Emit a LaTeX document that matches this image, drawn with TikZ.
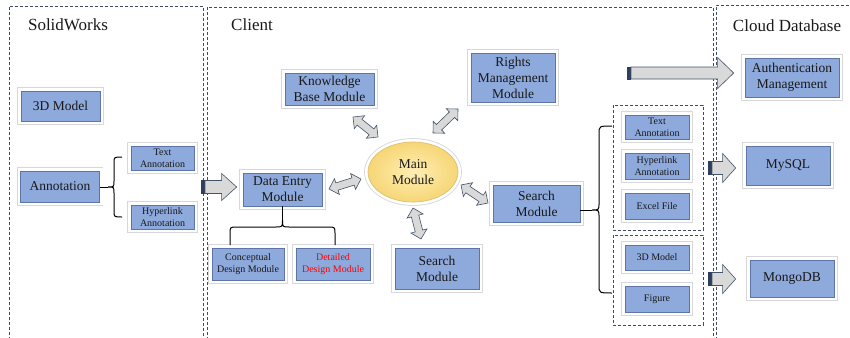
\documentclass[tikz,border=0pt]{standalone}
\usepackage{fontspec}
\setmainfont{Liberation Serif}
\usetikzlibrary{shapes.geometric,shapes.arrows,calc}
\definecolor{boxblue}{RGB}{142,169,219}
\definecolor{boxedge}{RGB}{92,116,166}
\definecolor{shadowgray}{RGB}{214,216,220}
\definecolor{arrfill}{RGB}{217,217,217}
\definecolor{arredge}{RGB}{68,84,106}
\definecolor{stripecol}{RGB}{47,62,92}
\definecolor{framecol}{RGB}{60,75,105}
\definecolor{yelin}{RGB}{255,238,180}
\definecolor{yelout}{RGB}{246,214,118}
\definecolor{yeledge}{RGB}{222,192,110}
\definecolor{txt}{RGB}{25,25,25}
\tikzset{
  glow/.style={preaction={draw=shadowgray, line width=7.8pt}, preaction={draw=white, line width=6pt}},
  box/.style={rectangle, glow, fill=boxblue, draw=boxedge, line width=0.7pt, inner sep=1pt, align=center, text=txt},
  bigbox/.style={box, font=\fontsize{13.5}{16}\selectfont},
  smallbox/.style={box, font=\fontsize{10}{12}\selectfont},
  frame/.style={draw=framecol, line width=0.9pt, dash pattern=on 3pt off 2pt},
  ttl/.style={font=\fontsize{17}{20}\selectfont, text=txt},
  darr/.style={double arrow, draw=arredge, fill=arrfill, line width=0.6pt, inner sep=0pt, inner ysep=3.5pt, minimum width=16pt, double arrow head extend=4.5pt},
  bracepath/.style={draw=black, line width=1pt},
}
\newcommand\fatarrow[5]{%
  \path[fill=stripecol, draw=stripecol, line width=0.4pt] let \p1=#1 in (\x1,\y1-#3) rectangle (\x1+3pt,\y1+#3);
  \path[draw=arredge, fill=arrfill, line width=0.6pt] let \p1=#1, \p2=#2 in
    (\x1+4pt,\y1-#3) -- (\x2-#5,\y1-#3) -- (\x2-#5,\y1-#4) -- (\x2,\y1) -- (\x2-#5,\y1+#4) -- (\x2-#5,\y1+#3) -- (\x1+4pt,\y1+#3) -- cycle;}
\newcommand\dblarrow[2]{%
  \path let \p1=#1, \p2=#2, \n1={atan2(\y2-\y1,\x2-\x1)}, \n2={veclen(\x2-\x1,\y2-\y1)} in
    node[darr, rotate=\n1, minimum height=\n2] at ($#1!0.5!#2$) {};}
\begin{document}
\begin{tikzpicture}[x=1pt,y=-1pt]
\useasboundingbox (0,0) rectangle (850,337);
% frames
\draw[frame] (9,340) -- (9,6) -- (203,6) -- (203,340);
\draw[frame] (207,340) -- (207,7) -- (713,7) -- (713,340);
\draw[frame] (716,340) -- (716,5) -- (852,5);
\draw[frame] (613,105) rectangle (703,230);
\draw[frame] (613,235) rectangle (703,325);
% titles
\node[ttl] (tsw) at (68,25) {SolidWorks};
\node[ttl] (tcl) at (252,25) {Client};
\node[ttl] (tcd) at (787,26) {Cloud Database};
% SolidWorks
\node[bigbox, minimum width=79pt, minimum height=30pt] (m3d) at (60.5,106) {3D Model};
\node[bigbox, minimum width=79pt, minimum height=31pt] (annot) at (60,186.5) {Annotation};
\node[smallbox, minimum width=63pt, minimum height=24pt] (ltext) at (162.5,158) {Text\\Annotation};
\node[smallbox, minimum width=63pt, minimum height=24pt] (lhyper) at (162.5,217) {Hyperlink\\Annotation};
% Client
\node[bigbox, minimum width=89pt, minimum height=32pt] (kb) at (329.5,89) {Knowledge\\Base Module};
\node[bigbox, minimum width=84pt, minimum height=49pt] (rights) at (513,77.5) {Rights\\Management\\Module};
\node[ellipse, glow, minimum width=90pt, minimum height=60pt, inner sep=0pt, inner color=yelin, outer color=yelout, draw=yeledge, line width=0.7pt, align=center, text=txt, font=\fontsize{13.5}{16}\selectfont] (main) at (413,172) {Main\\Module};
\node[bigbox, minimum width=79pt, minimum height=33pt] (dataentry) at (282.5,189.5) {Data Entry\\Module};
\node[smallbox, minimum width=72pt, minimum height=32pt] (concept) at (248,264) {Conceptual\\Design Module};
\node[smallbox, minimum width=74pt, minimum height=32pt, text=red] (detail) at (333,264) {Detailed\\Design Module};
\node[bigbox, minimum width=84pt, minimum height=41pt] (search2) at (437,268.5) {Search\\Module};
\node[bigbox, minimum width=87pt, minimum height=37pt] (search1) at (536.5,203.5) {Search\\Module};
\node[smallbox, minimum width=64pt, minimum height=24pt] (rtext) at (657,127) {Text\\Annotation};
\node[smallbox, minimum width=64pt, minimum height=26pt] (rhyper) at (657,166) {Hyperlink\\Annotation};
\node[smallbox, minimum width=64pt, minimum height=26pt] (excel) at (657,206) {Excel File};
\node[smallbox, minimum width=64pt, minimum height=25pt] (r3d) at (657,257.5) {3D Model};
\node[smallbox, minimum width=64pt, minimum height=26pt] (figure) at (657,299) {Figure};
% Cloud
\node[bigbox, minimum width=94pt, minimum height=39pt] (auth) at (792,77.5) {Authentication\\Management};
\node[bigbox, minimum width=84pt, minimum height=39pt] (mysql) at (788,165.5) {MySQL};
\node[bigbox, minimum width=84pt, minimum height=37pt] (mongo) at (792,278.5) {MongoDB};
% braces
\coordinate (tipL) at (108,187);
\draw[bracepath] (122,157) .. controls (114,157) .. (114,163) -- (114,181) .. controls (114,187) .. (tipL) .. controls (114,187) .. (114,193) -- (114,211) .. controls (114,217) .. (122,217);
\draw[bracepath] (annot.east |- tipL) -- (tipL);
\coordinate (tipR) at (592,210);
\draw[bracepath] (612,126) .. controls (599,126) .. (599,134) -- (599,203) .. controls (599,210) .. (tipR) .. controls (599,210) .. (599,217) -- (599,285) .. controls (599,293) .. (612,293);
\draw[bracepath] (search1.east |- tipR) -- (tipR);
\coordinate (tipD) at (282.5,220);
\draw[bracepath] (230,245) -- (230,234) .. controls (230,227) .. (237,227) -- (275.5,227) .. controls (282.5,227) .. (tipD) .. controls (282.5,227) .. (289.5,227) -- (328,227) .. controls (335,227) .. (335,234) -- (335,245);
\draw[bracepath] (dataentry.south) -- (tipD);
% block arrows
\coordinate (tailA) at (201,187);
\fatarrow{(tailA)}{($(dataentry.west)+(-6,0)$)}{6.5pt}{13.5pt}{15pt}
\coordinate (tailB) at (627,73);
\fatarrow{(tailB)}{($(auth.west)+(-11,0)$)}{6pt}{15.5pt}{16pt}
\coordinate (tailC) at (708,168);
\fatarrow{(tailC)}{($(mysql.west)+(-10,0)$)}{6.5pt}{14.5pt}{13pt}
\coordinate (tailD) at (708,279);
\fatarrow{(tailD)}{($(mongo.west)+(-14,0)$)}{6.5pt}{14.5pt}{13pt}
% double arrows
\dblarrow{(353,117)}{(378,137)}
\dblarrow{(433,133)}{(458,109)}
\dblarrow{(329,189)}{(361,179)}
\dblarrow{(413,208)}{(421,239)}
\dblarrow{(461,185)}{(488,203)}
\end{tikzpicture}
\end{document}
